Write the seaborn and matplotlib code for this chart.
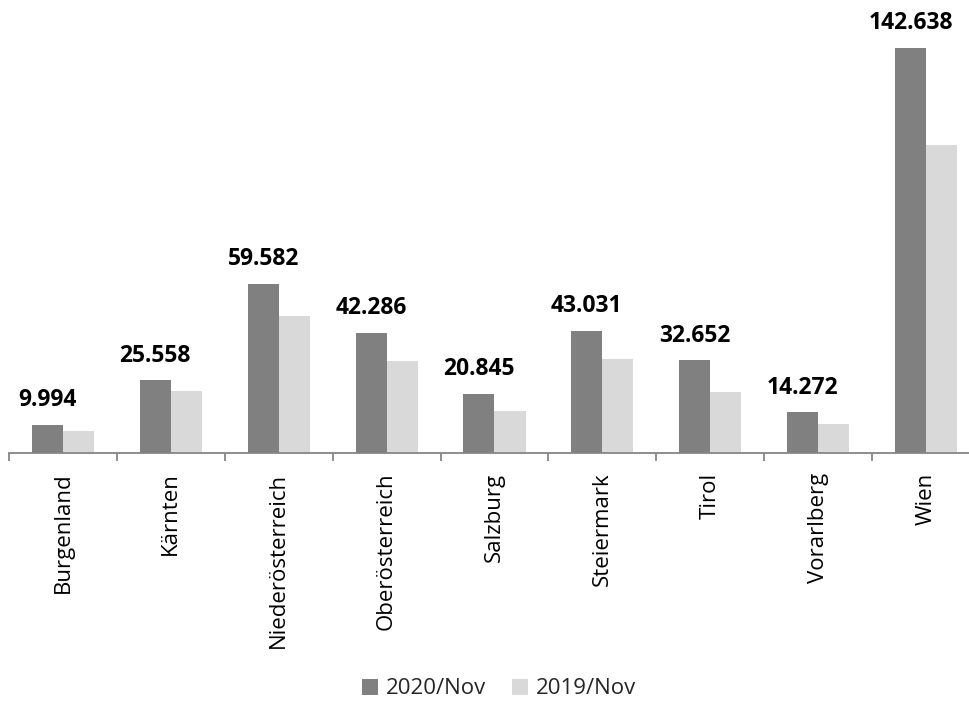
import matplotlib
matplotlib.use("Agg")
import matplotlib.pyplot as plt
import seaborn as sns
import pandas as pd

# Data (Austrian federal states, November comparison)
states = ["Burgenland", "Kärnten", "Niederösterreich", "Oberösterreich",
          "Salzburg", "Steiermark", "Tirol", "Vorarlberg", "Wien"]
values_2020 = [9994, 25558, 59582, 42286, 20845, 43031, 32652, 14272, 142638]
values_2019 = [7800, 21900, 48300, 32400, 14700, 33100, 21600, 10200, 108300]
series = ["2020/Nov", "2019/Nov"]
colors = ["#808080", "#d9d9d9"]

df = pd.DataFrame({
    "state": states * 2,
    "value": values_2020 + values_2019,
    "series": [series[0]] * len(states) + [series[1]] * len(states),
})

sns.set_theme(style="white")
plt.rcParams["font.family"] = ["Open Sans", "DejaVu Sans"]

W, H = 970, 702
fig = plt.figure(figsize=(W / 100, H / 100), dpi=100)
ax_left, ax_right, ax_bottom, ax_top = 9, 980, 453, 27
ax = fig.add_axes([ax_left / W, (H - ax_bottom) / H,
                   (ax_right - ax_left) / W, (ax_bottom - ax_top) / H])

sns.barplot(data=df, x="state", y="value", hue="series", order=states,
            hue_order=series, palette=colors, width=0.575, saturation=1,
            ax=ax, edgecolor="none", linewidth=0)

ax.set_xlim(-0.5, len(states) - 0.5)
ax.set_ylim(0, 150000)

# Value labels over the 2020 bars
labels_2020 = [f"{v:,}".replace(",", ".") for v in values_2020]
ax.bar_label(ax.containers[0], labels=labels_2020, padding=9,
             fontsize=16.5, fontweight="bold", family=["Open Sans", "DejaVu Sans"],
             color="black")

# Axes styling: only a gray baseline with boundary tick marks
for side in ["left", "right", "top"]:
    ax.spines[side].set_visible(False)
ax.spines["bottom"].set_color("#868686")
ax.spines["bottom"].set_linewidth(1.3)
ax.set_yticks([])
ax.set_xlabel("")
ax.set_ylabel("")
ax.set_xticks(range(len(states)))
ax.set_xticklabels(states, rotation=90, fontsize=16, color="black")
ax.tick_params(axis="x", which="major", length=0, pad=14)
ax.set_xticks([i - 0.5 for i in range(len(states))], minor=True)
ax.tick_params(axis="x", which="minor", length=6, width=1.3,
               color="#868686", direction="out", bottom=True)

# Legend at bottom center
handles, labs = ax.get_legend_handles_labels()
ax.get_legend().remove()
fig.legend(handles, labs, loc="center", bbox_to_anchor=(499 / W, 1 - 689 / H),
           ncol=2, frameon=False, fontsize=16, handlelength=0.7,
           handleheight=0.7, handletextpad=0.35, columnspacing=1.2)

fig.savefig("out.png", dpi=100, facecolor="white")
